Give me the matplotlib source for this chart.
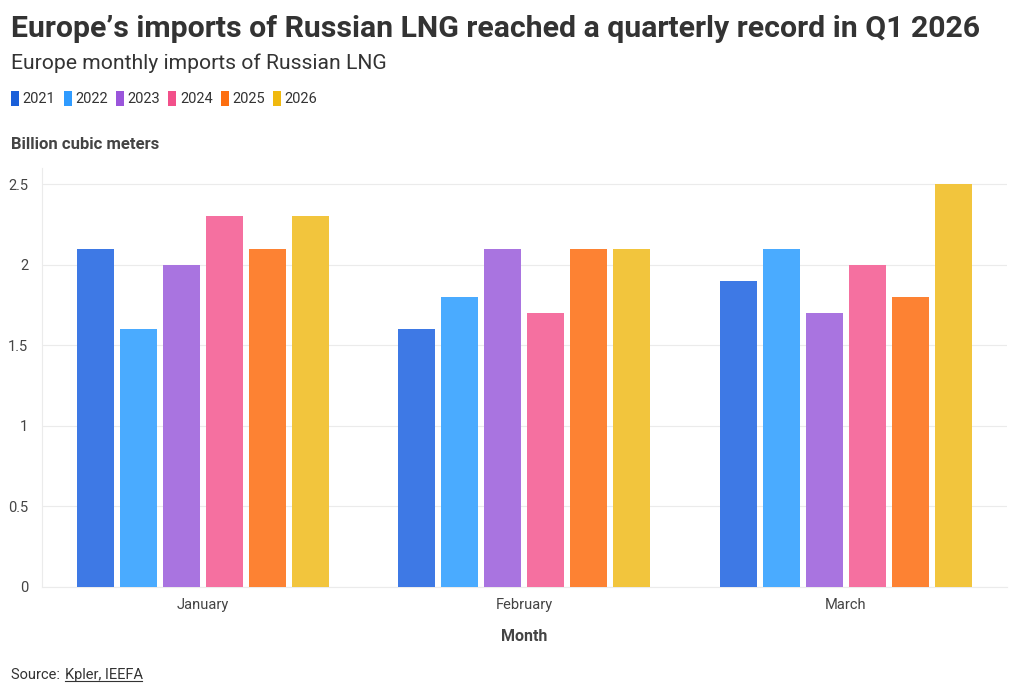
import matplotlib.pyplot as plt
import numpy as np
from matplotlib.patches import Patch

months = ["January", "February", "March"]
years = ["2021", "2022", "2023", "2024", "2025", "2026"]
imports_2021 = [2.1, 1.6, 1.9]
imports_2022 = [1.6, 1.8, 2.1]
imports_2023 = [2.0, 2.1, 1.7]
imports_2024 = [2.3, 1.7, 2.0]
imports_2025 = [2.1, 2.1, 1.8]
imports_2026 = [2.3, 2.1, 2.5]
yticks = [0, 0.5, 1, 1.5, 2, 2.5]

series = [imports_2021, imports_2022, imports_2023,
          imports_2024, imports_2025, imports_2026]
colors = ["#3e79e5", "#4aabff", "#a974e0", "#f570a0", "#fd8233", "#f2c53d"]
legend_colors = ["#1a5fd9", "#2f9bff", "#9a55db", "#f2508a", "#fd6e10", "#f0b90f"]

plt.rcParams["font.family"] = ["Roboto", "DejaVu Sans"]

fig = plt.figure(figsize=(10.2, 6.94), dpi=100)
ax = fig.add_axes([0.0412, 0.1542, 0.9458, 0.6038])

x = np.arange(len(months))
pitch = 43 / 321.7
width = 37 / 321.7
for i, (vals, c) in enumerate(zip(series, colors)):
    ax.bar(x + (i - 2.5) * pitch, vals, width=width, color=c, zorder=3)

ax.set_xlim(-0.5, 2.5)
ax.set_ylim(0, 2.6)
ax.set_yticks(yticks)
ax.set_yticklabels([f"{t:g}" for t in yticks])
ax.set_xticks(x)
ax.set_xticklabels(months)
ax.grid(axis="y", color="#ebebeb", linewidth=0.8, zorder=0)
for s in ["top", "right"]:
    ax.spines[s].set_visible(False)
ax.spines["left"].set_color("#ebebeb")
ax.spines["bottom"].set_color("#ebebeb")
ax.tick_params(axis="y", length=0, pad=10, labelsize=10.5, labelcolor="#444444")
ax.tick_params(axis="x", length=0, pad=8, labelsize=10.5, labelcolor="#444444")
ax.set_xlabel("Month", fontsize=11.5, fontweight="bold", color="#444444", labelpad=12)

fig.text(0.011, 0.958, "Europe\u2019s imports of Russian LNG reached a quarterly record in Q1 2026",
         fontsize=21.8, fontweight="bold", color="#333333", va="center")
fig.text(0.011, 0.909, "Europe monthly imports of Russian LNG",
         fontsize=15.2, color="#333333", va="center")
fig.text(0.011, 0.792, "Billion cubic meters",
         fontsize=12, fontweight="bold", color="#444444", va="center")

handles = [Patch(facecolor=c, label=y) for c, y in zip(legend_colors, years)]
fig.legend(handles=handles, loc="center left", bbox_to_anchor=(-0.002, 0.858),
           ncol=6, frameon=False, fontsize=10.5, handlelength=0.55, handleheight=1.2,
           handletextpad=0.25, columnspacing=0.55, labelcolor="#333333")

fig.text(0.011, 0.027, "Source: ", fontsize=10.5, color="#333333", va="center")
fig.text(0.064, 0.027, "Kpler, IEEFA", fontsize=10.5, color="#333333", va="center")
fig.lines.append(plt.Line2D([0.064, 0.139], [0.019, 0.019], transform=fig.transFigure,
                            color="#333333", linewidth=0.8))

fig.savefig("out.png", dpi=100)
